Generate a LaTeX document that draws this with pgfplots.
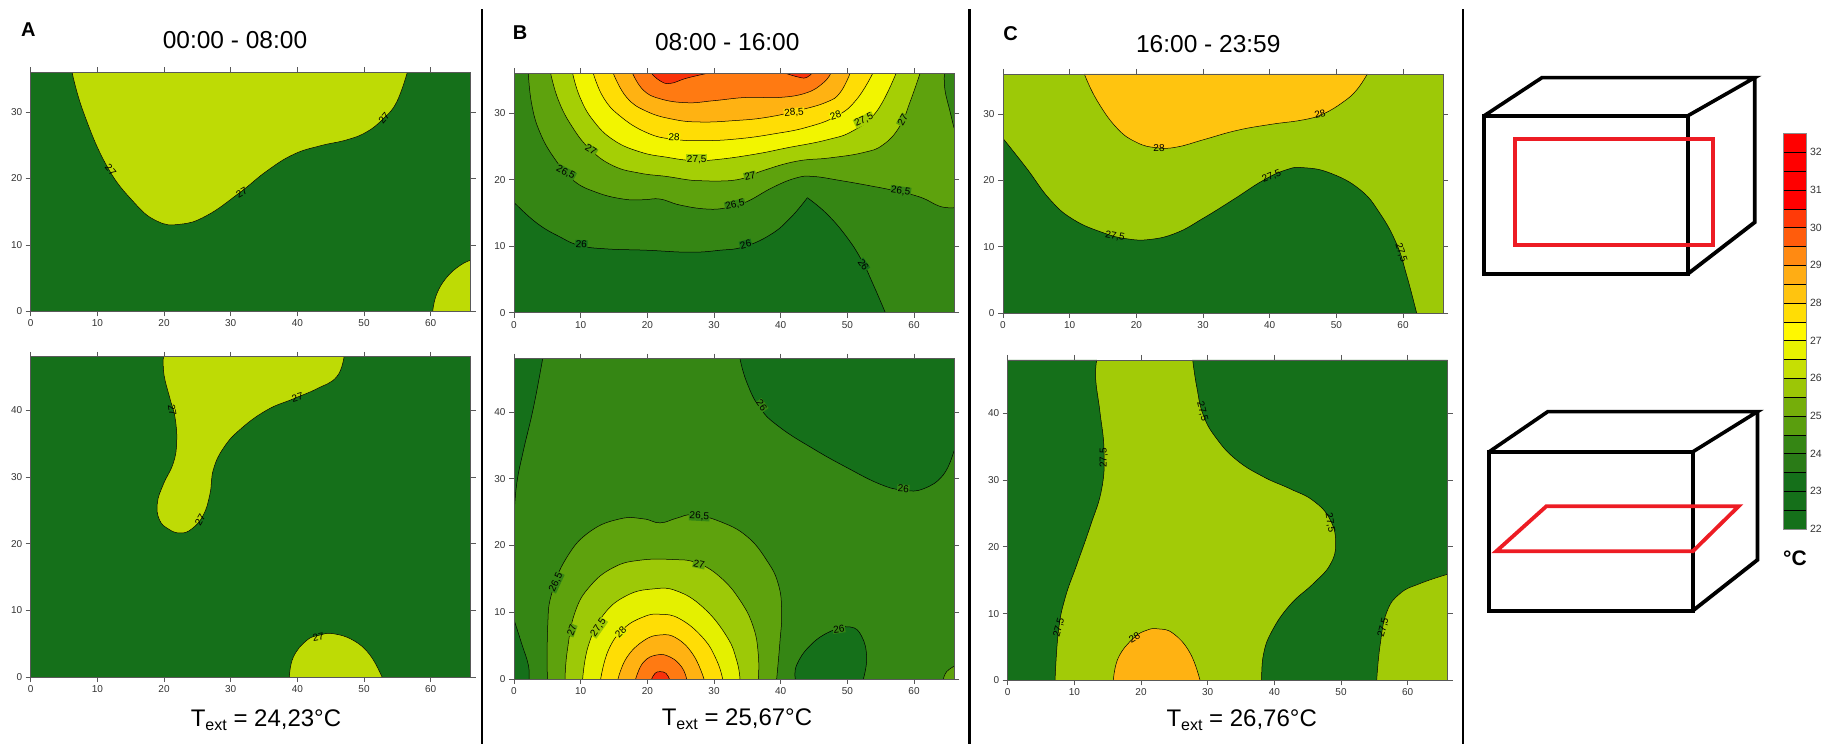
\documentclass[border=0pt]{standalone}
\usepackage{fontspec}
\setmainfont{Liberation Sans}
\usepackage{pgfplots}
\pgfplotsset{compat=1.18}
\newcommand{\fs}[1]{\fontsize{#1}{#1}\selectfont}
\definecolor{g0}{HTML}{15701A}
\definecolor{g1}{HTML}{358614}
\definecolor{g2}{HTML}{5EA20D}
\definecolor{g3}{HTML}{A5CF05}
\definecolor{g3b}{HTML}{9DC907}
\definecolor{g3c}{HTML}{A2CB07}
\definecolor{yg}{HTML}{BEDB05}
\definecolor{y1}{HTML}{F2F500}
\definecolor{y1b}{HTML}{E4F000}
\definecolor{y2}{HTML}{FFDD05}
\definecolor{o0}{HTML}{FFC40F}
\definecolor{o1}{HTML}{FFB212}
\definecolor{o2}{HTML}{FF7A12}
\definecolor{r1}{HTML}{F9320A}
% one contour band: fill colour, contour line, closing corners
\newcommand{\reg}[3]{%
  \addplot[fill=#1,draw=none,smooth,tension=.75] coordinates {#2} #3 -- cycle;
  \addplot[black,line width=.5pt,smooth,tension=.75] coordinates {#2};}
% contour label: x, y, rotation, text, background
\newcommand{\lab}[5]{\node[rotate=#3,font=\fs{10},inner sep=.6pt,fill=#5,text=black] at (axis cs:#1,#2) {#4};}
\newcommand{\labn}[4]{\node[rotate=#3,font=\fs{10},inner sep=0pt,text=black] at (axis cs:#1,#2) {#4};}
\pgfplotsset{
  pan/.style={scale only axis,width=440pt,axis on top,anchor=north west,
    xmin=0,xmax=66,ymin=0,xtick={0,10,...,60},
    tick align=outside,major tick length=5pt,
    axis line style={draw=black!65,line width=.7pt},
    tick style={draw=black!65,line width=.7pt},
    xticklabel pos=lower,yticklabel pos=lower,
    tick label style={font=\fs{10},text=black!80},
    /pgf/number format/assume math mode=true},
  ptop/.style={pan,height=239.2pt,ymax=36,ytick={0,10,20,30}},
  pbot/.style={pan,height=320.3pt,ymax=48,ytick={0,10,20,30,40}},
}
\begin{document}
\begin{tikzpicture}[x=1pt,y=1pt]
\path[use as bounding box] (0,0) rectangle (1827,744);

% ---------- A top
\begin{axis}[ptop,at={(30.7pt,671.9pt)}]
\addplot[fill=g0,draw=none] coordinates {(0,0)(66,0)(66,36)(0,36)};
\reg{yg}{(6.2,36)(7.9,30)(11.4,21.9)(15.4,16.5)(18.9,13.6)(22.4,13.1)(26.4,14.4)(31.4,17.9)(35.4,21.1)(39.4,23.6)(43.4,24.9)(47.4,25.8)(50.4,27)(52.9,29)(54.9,31.5)(56.5,36)}{}
\reg{yg}{(60.3,0)(60.9,2.6)(62.4,5.1)(64.4,6.9)(66,7.7)}{-- (axis cs:66,0)}
\labn{12}{21.3}{-50}{27}
\labn{31.65}{17.9}{30}{27}
\labn{53}{29.1}{50}{27}
\end{axis}
% ---------- A bottom
\begin{axis}[pbot,at={(30.7pt,387.2pt)}]
\addplot[fill=g0,draw=none] coordinates {(0,0)(66,0)(66,48)(0,48)};
\reg{yg}{(19.9,48)(20,45.3)(20.9,41.7)(21.65,38.9)(21.9,35.3)(21.4,32.1)(19.9,28.9)(19,26.1)(19.3,23.6)(20.65,22.2)(22.4,21.6)(24.15,22.2)(25.9,24.3)(26.9,27.5)(27.4,31.1)(28.9,34.3)(31.4,37.1)(35.4,40)(39.4,41.7)(42.9,43.2)(45.9,45)(47,48)}{}
\reg{yg}{(38.8,0)(39.4,3)(41.4,5.5)(43.4,6.3)(45.4,6.5)(48.4,5.5)(50.9,3.3)(52.7,0)}{}
\labn{21.25}{40}{-80}{27}
\labn{25.4}{23.6}{60}{27}
\labn{40}{41.9}{15}{27}
\labn{43.15}{6}{10}{27}
\end{axis}

% ---------- B top
\begin{axis}[ptop,at={(514pt,670.5pt)}]
\addplot[fill=g1,draw=none] coordinates {(0,0)(66,0)(66,36)(0,36)};
\reg{g0}{(0,16.6)(3.4,13.5)(6.9,11.4)(9.9,10.1)(13.9,9.6)(19.9,9.4)(26.4,9.1)(30.9,9.4)(34.4,9.9)(38.4,11.7)(41.4,14.2)(44,17.3)}{-- (axis cs:46,0) -- (axis cs:0,0)}
\reg{g0}{(44,17.3)(46.9,14.9)(49.9,11.4)(52.2,7.8)(53.9,4.2)(55.7,0)}{-- (axis cs:40,0)}
\reg{g2}{(2.15,36)(2.65,31.4)(3.9,27.1)(6.15,23.1)(8.9,19.9)(12.4,18.1)(16.4,17.1)(19.4,17)(21.9,17.1)(24.9,16.2)(28.9,15.6)(31.9,15.8)(34.9,16.7)(38.9,18.9)(42.4,20.3)(44.9,20.5)(48.9,19.9)(53.4,19.1)(56.9,18.4)(60.9,17.4)(63.9,16)(66,15.8)}{-- (axis cs:66,36)}
\reg{g1}{(66,27.8)(65.4,30.3)(64.65,33.5)(64.55,36)}{-- (axis cs:66,36)}
\reg{g3}{(5.5,36)(6.65,32)(8.65,28.1)(11.4,24.6)(14.9,22.1)(18.9,21)(22.9,20.5)(26.9,19.9)(29.9,19.8)(33.9,20.1)(37.4,21.4)(42.4,22.8)(47.4,23.3)(52.4,24.1)(55.4,25.3)(57.9,28.1)(59.4,31.7)(60.9,36)}{}
\reg{y1}{(8.8,36)(9.9,32.4)(11.9,28.9)(14.9,26)(18.9,24.2)(22.9,23.4)(26.9,22.9)(30.9,23.1)(36.4,23.9)(40.9,24.8)(46.9,26)(50.9,27.4)(54.4,30.3)(57.3,36)}{}
\reg{y2}{(11.9,36)(13.4,32.4)(15.9,29.6)(19.9,27.1)(23.9,26.1)(28.9,25.9)(33.9,26.2)(38.9,26.9)(43.9,27.9)(48.4,29.6)(51.4,32.1)(53.8,36)}{}
\reg{o1}{(14.9,36)(16.9,32.4)(19.9,30.3)(23.9,29.1)(27.9,28.7)(32.9,28.9)(37.9,29.4)(42.9,30.5)(46.9,31.7)(48.9,33.1)(50.4,36)}{}
\reg{o2}{(17.8,36)(19.4,33.5)(21.9,32.2)(25.9,31.6)(29.9,31.9)(34.9,32.4)(39.9,32.4)(43.9,33.1)(46.4,34.6)(47.5,36)}{}
\reg{r1}{(20.65,36)(21.9,34.9)(23.4,34.5)(25.9,35.3)(28.9,36)}{}
\reg{r1}{(40.8,36)(42.9,35.4)(43.9,35.4)(44.65,36)}{}
\lab{10.1}{10.3}{-3}{26}{g0}
\lab{34.75}{10.3}{15}{26}{g0}
\lab{52.4}{7.2}{-55}{26}{g0}
\lab{7.75}{21.1}{-28}{26,5}{g1}
\lab{33.15}{16.2}{12}{26,5}{g1}
\lab{58}{18.3}{-8}{26,5}{g1}
\lab{11.55}{24.5}{-32}{27}{g2}
\lab{35.4}{20.6}{12}{27}{g2}
\lab{58.3}{29}{60}{27}{g2}
\lab{27.4}{23.1}{0}{27,5}{g3}
\lab{52.5}{29}{25}{27,5}{g3}
\lab{24}{26.4}{-3}{28}{y1}
\lab{48.25}{29.7}{18}{28}{y1}
\lab{42}{30.1}{5}{28,5}{y2}
\end{axis}
% ---------- B bottom
\begin{axis}[pbot,at={(514pt,385.3pt)}]
\addplot[fill=g1,draw=none] coordinates {(0,0)(66,0)(66,48)(0,48)};
\reg{g0}{(4.3,48)(2.9,40.6)(1.4,34.2)(0.4,29.2)(0,24.2)}{-- (axis cs:0,48)}
\reg{g0}{(33.9,48)(34.9,44.5)(36.9,40.6)(39.9,37.7)(44.9,34.5)(49.9,31.7)(54.9,29.2)(58.4,28.3)(61.4,28.5)(64.4,30.6)(66,34.2)}{-- (axis cs:66,48)}
\reg{g0}{(0,8.9)(1.15,5.3)(2.15,2.1)(2.25,0)}{-- (axis cs:0,0)}
\reg{g0}{(42.2,0)(42.4,2.1)(44.4,5)(47.4,7.1)(50.4,7.8)(52.15,6.4)(52.9,3.2)(52.4,0)}{}
\reg{g2}{(5,0)(5.05,7.8)(5.65,12.8)(7.9,18.2)(11.4,22.1)(15.9,24)(19.4,24)(21.9,23.4)(24.4,24.1)(26.9,24.6)(30.9,23.6)(34.9,21.4)(37.9,17.8)(39.65,14.2)(40.15,10)(39.9,5.7)(39.4,0)}{}
\reg{g2}{(64.4,0)(64.9,1.1)(66,1.9)}{-- (axis cs:66,0)}
\reg{g3b}{(7.65,0)(8,4.3)(9.15,10)(11.4,13.9)(14.9,16.7)(18.9,17.8)(23.9,17.9)(27.4,17.4)(30.9,15.3)(33.9,11.8)(35.9,7.8)(36.65,3.6)(36.65,0)}{}
\reg{y1b}{(10.3,0)(11.15,5)(13.4,9.6)(16.9,12.5)(20.9,13.5)(24.4,13.2)(28.4,10.7)(31.9,6.4)(33.4,2.8)(33.9,0)}{}
\reg{y2}{(13,0)(14.15,4.3)(16.4,7.5)(19.4,9.3)(21.9,9.7)(24.9,9)(28.4,6.1)(30.4,2.8)(31.3,0)}{}
\reg{o1}{(15.6,0)(16.9,3.2)(19.4,5.7)(21.9,6.6)(24.4,6.1)(26.9,3.6)(28.5,0)}{}
\reg{o2}{(18.25,0)(19.4,2.5)(21.4,3.6)(23.4,3.3)(25.15,1.8)(25.9,0)}{}
\reg{r1}{(20.65,0)(21.15,.85)(21.9,1.1)(22.8,.85)(23.3,0)}{}
\lab{37.15}{41}{-55}{26}{g1}
\lab{58.4}{28.5}{-3}{26}{g1}
\lab{48.75}{7.5}{8}{26}{g1}
\lab{27.8}{24.4}{-3}{26,5}{g1}
\lab{6.3}{14.5}{65}{26,5}{g1}
\lab{27.75}{17.2}{-12}{27}{g2}
\lab{8.65}{7.3}{70}{27}{g2}
\lab{12.65}{7.7}{55}{27,5}{g3b}
\lab{16}{7}{45}{28}{y1b}
\end{axis}

% ---------- C top
\begin{axis}[ptop,at={(1003pt,670pt)}]
\addplot[fill=g3b,draw=none] coordinates {(0,0)(66,0)(66,36)(0,36)};
\reg{g0}{(0,26.3)(3.55,21.8)(7.05,17.1)(10.55,14.1)(15.05,12.1)(18.55,11.2)(22.05,11.1)(26.05,12.1)(30.05,14.3)(34.55,17.1)(39.05,20)(42.55,21.6)(45.05,21.9)(49.05,21.1)(53.55,18.6)(56.55,15)(59.05,10.4)(60.55,5.7)(62.05,0)}{-- (axis cs:0,0)}
\reg{o0}{(12.2,36)(14.05,32.1)(17.05,27.9)(20.05,25.7)(23.05,24.9)(26.05,25)(30.05,26.1)(35.05,27.5)(40.05,28.4)(45.05,29.1)(48.05,30)(51.05,31.8)(53.05,33.6)(54.65,36)}{}
\labn{23.4}{24.9}{0}{28}
\labn{47.55}{30}{12}{28}
\labn{40.3}{20.6}{22}{27,5}
\labn{16.8}{11.6}{-10}{27,5}
\labn{59.7}{9.1}{-72}{27,5}
\end{axis}
% ---------- C bottom
\begin{axis}[pbot,at={(1007.7pt,384pt)}]
\addplot[fill=g3c,draw=none] coordinates {(0,0)(66,0)(66,48)(0,48)};
\reg{g0}{(13.35,48)(13.2,45.1)(13.85,40.1)(14.45,34.4)(14.1,28.7)(12.35,23)(10.35,17.3)(8.6,12.3)(7.6,7.3)(7.1,0)}{-- (axis cs:0,0) -- (axis cs:0,48)}
\reg{g0}{(38.1,0)(38.35,3.8)(39.6,7.3)(42.35,11.3)(45.85,14.5)(48.35,17.3)(49.2,20.5)(48.35,24.1)(45.85,26.9)(42.35,28.7)(38.35,30.5)(34.35,33)(31.35,36.2)(29.35,39.7)(28.35,44)(27.75,48)}{-- (axis cs:66,48) -- (axis cs:66,0)}
\reg{g3c}{(55.35,0)(55.85,5.2)(56.85,10.2)(58.85,13)(61.85,14.5)(66,15.9)}{-- (axis cs:66,0)}
\reg{o1}{(15.85,0)(16.6,3.4)(18.85,6.3)(20.85,7.5)(22.6,7.7)(24.85,7)(27.35,4.1)(28.85,0)}{}
\labn{29.2}{40.3}{-75}{27,5}
\labn{14.4}{33.3}{90}{27,5}
\labn{48.35}{23.6}{-80}{27,5}
\labn{7.7}{7.9}{75}{27,5}
\labn{56.35}{7.9}{75}{27,5}
\labn{19}{6.4}{30}{28}
\end{axis}

% ---------- colour bar
\begin{axis}[scale only axis,at={(1783pt,215pt)},anchor=south west,width=23.5pt,height=395.6pt,
  xmin=0,xmax=1,ymin=22,ymax=32.5,xtick=\empty,ytick={22,23,...,32},
  ytick pos=right,yticklabel pos=right,major tick length=0pt,
  axis line style={draw=black!45,line width=.7pt},
  tick label style={font=\fs{10.5},text=black!80},
  /pgf/number format/assume math mode=true,axis on top]
\addplot[fill=g0,draw=black,line width=.4pt] coordinates {(0,22)(1,22)(1,22.5)(0,22.5)} --cycle;
\addplot[fill=g0,draw=black,line width=.4pt] coordinates {(0,22.5)(1,22.5)(1,23)(0,23)} --cycle;
\addplot[fill=g0,draw=black,line width=.4pt] coordinates {(0,23)(1,23)(1,23.5)(0,23.5)} --cycle;
\addplot[fill={rgb,255:red,42;green,123;blue,23},draw=black,line width=.4pt] coordinates {(0,23.5)(1,23.5)(1,24)(0,24)} --cycle;
\addplot[fill=g1,draw=black,line width=.4pt] coordinates {(0,24)(1,24)(1,24.5)(0,24.5)} --cycle;
\addplot[fill={rgb,255:red,90;green,158;blue,14},draw=black,line width=.4pt] coordinates {(0,24.5)(1,24.5)(1,25)(0,25)} --cycle;
\addplot[fill={rgb,255:red,117;green,174;blue,10},draw=black,line width=.4pt] coordinates {(0,25)(1,25)(1,25.5)(0,25.5)} --cycle;
\addplot[fill={rgb,255:red,156;green,198;blue,6},draw=black,line width=.4pt] coordinates {(0,25.5)(1,25.5)(1,26)(0,26)} --cycle;
\addplot[fill={rgb,255:red,198;green,223;blue,3},draw=black,line width=.4pt] coordinates {(0,26)(1,26)(1,26.5)(0,26.5)} --cycle;
\addplot[fill={rgb,255:red,232;green,242;blue,0},draw=black,line width=.4pt] coordinates {(0,26.5)(1,26.5)(1,27)(0,27)} --cycle;
\addplot[fill={rgb,255:red,255;green,248;blue,0},draw=black,line width=.4pt] coordinates {(0,27)(1,27)(1,27.5)(0,27.5)} --cycle;
\addplot[fill=y2,draw=black,line width=.4pt] coordinates {(0,27.5)(1,27.5)(1,28)(0,28)} --cycle;
\addplot[fill=o0,draw=black,line width=.4pt] coordinates {(0,28)(1,28)(1,28.5)(0,28.5)} --cycle;
\addplot[fill={rgb,255:red,255;green,173;blue,20},draw=black,line width=.4pt] coordinates {(0,28.5)(1,28.5)(1,29)(0,29)} --cycle;
\addplot[fill={rgb,255:red,255;green,138;blue,18},draw=black,line width=.4pt] coordinates {(0,29)(1,29)(1,29.5)(0,29.5)} --cycle;
\addplot[fill={rgb,255:red,255;green,92;blue,12},draw=black,line width=.4pt] coordinates {(0,29.5)(1,29.5)(1,30)(0,30)} --cycle;
\addplot[fill={rgb,255:red,255;green,58;blue,8},draw=black,line width=.4pt] coordinates {(0,30)(1,30)(1,30.5)(0,30.5)} --cycle;
\addplot[fill=red,draw=black,line width=.4pt] coordinates {(0,30.5)(1,30.5)(1,31)(0,31)} --cycle;
\addplot[fill=red,draw=black,line width=.4pt] coordinates {(0,31)(1,31)(1,31.5)(0,31.5)} --cycle;
\addplot[fill=red,draw=black,line width=.4pt] coordinates {(0,31.5)(1,31.5)(1,32)(0,32)} --cycle;
\addplot[fill=red,draw=black,line width=.4pt] coordinates {(0,32)(1,32)(1,32.5)(0,32.5)} --cycle;
\end{axis}

% ---------- page layer: separators, boxes, titles (pixel coordinates)
\begin{axis}[scale only axis,at={(0pt,0pt)},anchor=south west,width=1827pt,height=744pt,
  xmin=0,xmax=1827,ymin=0,ymax=744,y dir=reverse,hide axis,clip=false]
\addplot[black,line width=2.2pt] coordinates {(482.3,9)(482.3,744)};
\addplot[black,line width=2.2pt] coordinates {(969.5,9)(969.5,744)};
\addplot[black,line width=2.6pt] coordinates {(1463,9)(1463,744)};
% upper box
\addplot[black,line width=4.2pt,line join=miter] coordinates {(1484.1,115.8)(1687.8,115.8)(1687.8,273.9)(1484.1,273.9)} --cycle;
\addplot[black,line width=3.6pt,line join=miter] coordinates {(1484.1,115.8)(1542,77.6)(1754.8,77.6)(1687.8,115.8)};
\addplot[black,line width=3.8pt,line join=miter] coordinates {(1754.8,77.6)(1754.8,222.2)(1687.8,273.9)};
\addplot[color={rgb,255:red,237;green,28;blue,36},line width=3.8pt,line join=miter] coordinates {(1515.3,138.8)(1712.9,138.8)(1712.9,245.2)(1515.3,245.2)} --cycle;
% lower box
\addplot[black,line width=4.2pt,line join=miter] coordinates {(1489.1,451.8)(1692.8,451.8)(1692.8,610.7)(1489.1,610.7)} --cycle;
\addplot[black,line width=3.6pt,line join=miter] coordinates {(1489.1,451.8)(1547.8,411.6)(1757.5,411.6)(1692.8,451.8)};
\addplot[black,line width=3.8pt,line join=miter] coordinates {(1757.5,411.6)(1757.5,559.8)(1692.8,610.7)};
\addplot[color={rgb,255:red,237;green,28;blue,36},line width=3.8pt,line join=miter] coordinates {(1546.4,506.2)(1738.7,506.2)(1692.8,551.3)(1496.2,551.3)} --cycle;
% texts
\node[font=\fs{24.5}] at (axis cs:235,40.3) {00:00 - 08:00};
\node[font=\fs{24.5}] at (axis cs:727.3,41.8) {08:00 - 16:00};
\node[font=\fs{24.5}] at (axis cs:1208.3,44) {16:00 - 23:59};
\node[font=\fs{20}\bfseries] at (axis cs:28.3,29.4) {A};
\node[font=\fs{20}\bfseries] at (axis cs:520,32.5) {B};
\node[font=\fs{20}\bfseries] at (axis cs:1010.7,33.5) {C};
\node[font=\fs{24}] at (axis cs:266,720) {T\raisebox{-.18em}{\fs{16}ext} = 24,23°C};
\node[font=\fs{24}] at (axis cs:737,719) {T\raisebox{-.18em}{\fs{16}ext} = 25,67°C};
\node[font=\fs{24}] at (axis cs:1241.7,720) {T\raisebox{-.18em}{\fs{16}ext} = 26,76°C};
\node[font=\fs{21}\bfseries] at (axis cs:1795,558) {°C};
\end{axis}
\end{tikzpicture}
\end{document}
